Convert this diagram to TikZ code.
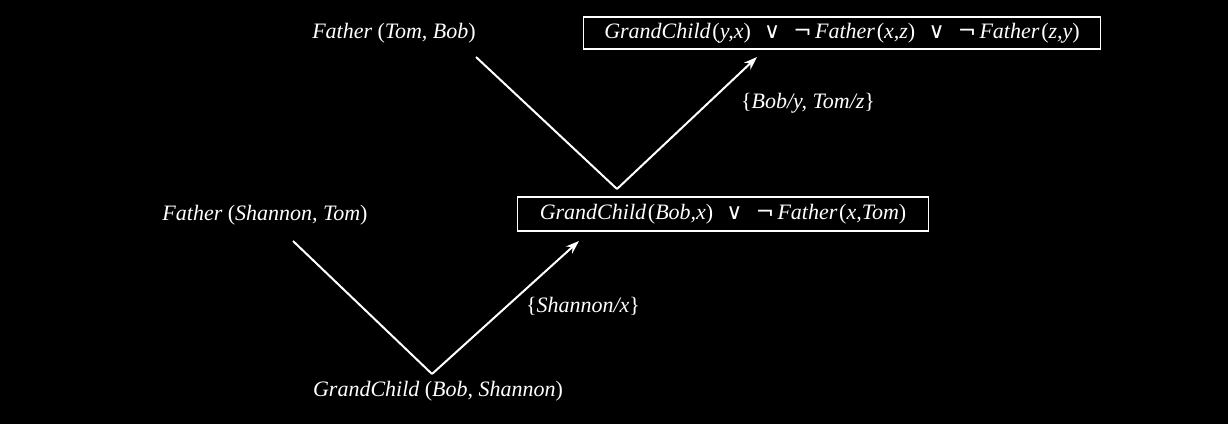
\documentclass[tikz,border=0pt]{standalone}
\usepackage{fontspec}
\setmainfont{Liberation Serif}
\newfontfamily\symfont{DejaVu Sans}
\usetikzlibrary{arrows.meta}
\newcommand{\orr}{\hspace{0.6em}{\upshape\symfont ∨}\hspace{0.6em}}
\newcommand{\nott}{{\upshape\symfont ¬}\hspace{0.15em}}
\newcommand{\lp}{\hspace{0.08em}\textup{(}}
\newcommand{\rp}{\textup{)}}
\begin{document}
\begin{tikzpicture}[x=0.75pt,y=-0.75pt,
 lbl/.style={text=white,font=\fontsize{16.5}{19}\selectfont\itshape,inner sep=0pt,anchor=center},
 clause/.style={lbl,draw=white,line width=1.2pt},
 edge/.style={draw=white,line width=1.5pt},
 arr/.style={edge,-{Stealth[length=10pt,width=7pt]}}]
\fill[black] (0,0) rectangle (1228,424);
\useasboundingbox (0,0) rectangle (1228,424);
% nodes
\node[lbl] (f1) at (394,33) {Father\,\lp Tom, Bob\rp};
\node[clause,minimum width=388pt,minimum height=24pt] (c1) at (842,33)
  {GrandChild\lp y,x\rp\orr\nott Father\lp x,z\rp\orr\nott Father\lp z,y\rp};
\node[lbl] (s1) at (808,103) {\textup{\{}Bob/y, Tom/z\textup{\}}};
\node[lbl] (f2) at (265,215) {Father\,\lp Shannon, Tom\rp};
\node[clause,minimum width=308pt,minimum height=25.5pt] (c2) at (723,214)
  {GrandChild\lp Bob,x\rp\orr\nott Father\lp x,Tom\rp};
\node[lbl] (s2) at (583,306) {\textup{\{}Shannon/x\textup{\}}};
\node[lbl] (g) at (438,391) {GrandChild\,\lp Bob, Shannon\rp};
% connector points
\coordinate (f1e) at (476,57);
\coordinate (v1) at (617,189);
\coordinate (c1e) at (757,57);
\coordinate (f2e) at (293,241);
\coordinate (v2) at (432,374);
\coordinate (c2e) at (579,241);
% connectors
\draw[edge] (f1e) -- (v1);
\draw[arr] (v1) -- (c1e);
\draw[edge] (f2e) -- (v2);
\draw[arr] (v2) -- (c2e);
\end{tikzpicture}
\end{document}
